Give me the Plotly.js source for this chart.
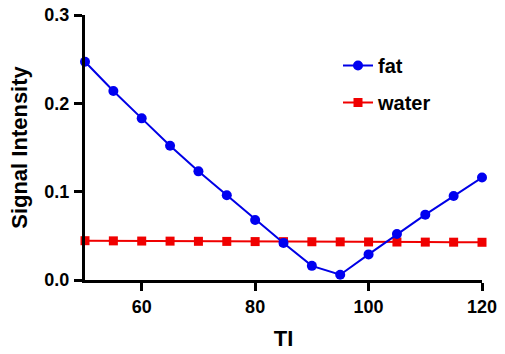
<!DOCTYPE html>
<html>
<head>
<meta charset="utf-8">
<script src="https://cdn.plot.ly/plotly-3.0.1.min.js"></script>
<style>html,body{margin:0;padding:0;background:#fff;}#chart{width:505px;height:354px;}</style>
</head>
<body>
<div id="chart"></div>
<script>
const TI = [50, 55, 60, 65, 70, 75, 80, 85, 90, 95, 100, 105, 110, 115, 120];
const fat = [0.247, 0.214, 0.183, 0.152, 0.123, 0.096, 0.068, 0.042, 0.016, 0.006, 0.029, 0.052, 0.074, 0.095, 0.116];
const water = [0.0445, 0.0443, 0.0441, 0.044, 0.0438, 0.0437, 0.0435, 0.0434, 0.0433, 0.0432, 0.0431, 0.043, 0.0429, 0.0428, 0.0427];
const xTicks = [60, 80, 100, 120];
const yTicks = [0, 0.1, 0.2, 0.3];
const yTickText = ['0.0', '0.1', '0.2', '0.3'];

const FONT = 'Liberation Sans, Arial, sans-serif';
const traces = [
  {
    x: TI, y: water, name: 'water', type: 'scatter', mode: 'lines+markers',
    line: {color: '#f00000', width: 2},
    marker: {symbol: 'square', size: 9, color: '#f00000'},
    cliponaxis: false, legendgroup: 'w', legendrank: 2
  },
  {
    x: TI, y: fat, name: 'fat', type: 'scatter', mode: 'lines+markers',
    line: {color: '#0000e6', width: 2},
    marker: {symbol: 'circle', size: 10, color: '#0000f0'},
    cliponaxis: false, legendgroup: 'f', legendrank: 1
  }
];
const layout = {
  width: 505, height: 354,
  margin: {l: 85, r: 23, t: 15, b: 74},
  paper_bgcolor: '#fff', plot_bgcolor: '#fff',
  font: {family: FONT, color: '#000', weight: 'bold'},
  showlegend: true,
  legend: {
    xref: 'paper', yanchor: 'top',
    font: {family: FONT, size: 20, color: '#000', weight: 'bold'},
    tracegroupgap: 8, bgcolor: 'rgba(0,0,0,0)'
  },
  xaxis: {
    range: [50, 120], tickvals: xTicks, ticktext: xTicks.map(String),
    showline: true, linecolor: '#000', linewidth: 3,
    ticks: 'outside', ticklen: 8, tickwidth: 3, tickcolor: '#000',
    showgrid: false, zeroline: false,
    tickfont: {family: FONT, size: 18, color: '#000', weight: 'bold'},
    ticklabelstandoff: 0,
    title: {text: 'TI', font: {family: FONT, size: 22, color: '#000', weight: 'bold'}, standoff: 16},
    automargin: false
  },
  yaxis: {
    range: [0, 0.3], tickvals: yTicks, ticktext: yTickText,
    showline: true, linecolor: '#000', linewidth: 3,
    ticks: 'outside', ticklen: 8, tickwidth: 3, tickcolor: '#000',
    showgrid: false, zeroline: false,
    tickfont: {family: FONT, size: 18, color: '#000', weight: 'bold'},
    ticklabelstandoff: 1,
    title: {text: 'Signal Intensity', font: {family: FONT, size: 22, color: '#000', weight: 'bold'}, standoff: 11},
    automargin: false
  }
};
layout.legend.x = (338 - 85) / (505 - 85 - 23);
layout.legend.y = 1 - (46 - 15) / (354 - 15 - 74);
Plotly.newPlot('chart', traces, layout, {displayModeBar: false, staticPlot: true});
</script>
</body>
</html>
